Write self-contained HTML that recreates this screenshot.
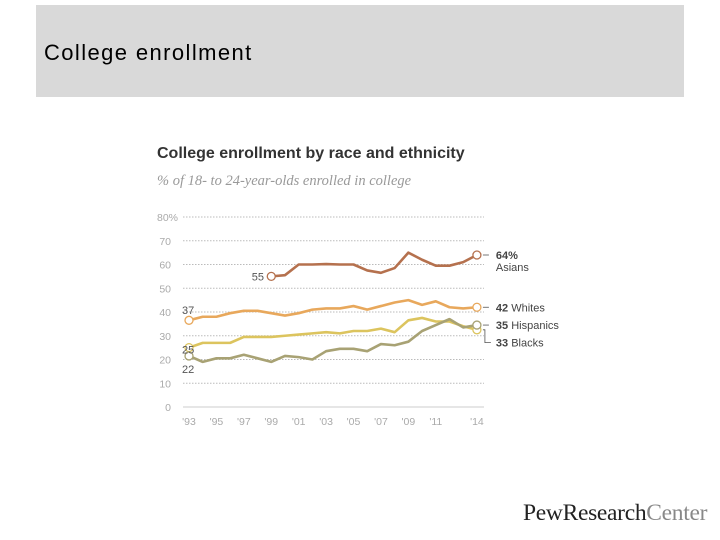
<!DOCTYPE html>
<html><head><meta charset="utf-8"><style>
body{margin:0;width:720px;height:540px;background:#fff;position:relative;overflow:hidden;font-family:"Liberation Sans",sans-serif}
#hdr{position:absolute;left:36px;top:5px;width:648px;height:92px;background:#d9d9d9}
#hdr span{position:absolute;left:8px;top:35px;font-size:22px;letter-spacing:1.4px;color:#000}
#logo{position:absolute;left:523px;top:500px;font-family:"Liberation Serif",serif;font-size:23.5px;letter-spacing:-0.3px;color:#222}
</style></head><body>
<div id="hdr"><span>College enrollment</span></div>
<svg id="chart" width="720" height="540" style="position:absolute;left:0;top:0"></svg>
<div id="logo">PewResearch<span style="color:#888">Center</span></div>
<script>
const years=[1993,1994,1995,1996,1997,1998,1999,2000,2001,2002,2003,2004,2005,2006,2007,2008,2009,2010,2011,2012,2013,2014];
const asians=[null,null,null,null,null,null,55,55.5,60,60,60.2,60,60,57.5,56.5,58.5,65,62,59.5,59.5,61,64];
const whites=[36.5,38,38,39.5,40.5,40.5,39.5,38.5,39.5,41,41.5,41.5,42.5,41,42.5,44,45,43,44.5,42,41.5,42];
const blacks=[25,27,27,27,29.5,29.5,29.5,30,30.5,31,31.5,31,32,32,33,31.5,36.5,37.5,36,36,34,32.5];
const hispanics=[21.5,19,20.5,20.5,22,20.5,19,21.5,21,20,23.5,24.5,24.5,23.5,26.5,26,27.5,32,34.5,37,33.5,34.5];
const yTicks=[0,10,20,30,40,50,60,70,80];
const xTickYears=[1993,1995,1997,1999,2001,2003,2005,2007,2009,2011,2014];
const xLabels=["'93","'95","'97","'99","'01","'03","'05","'07","'09","'11","'14"];
const X=y=>189+(y-1993)*13.71, Y=v=>407-v*2.375;
const svg=document.getElementById('chart'),NS='http://www.w3.org/2000/svg';
function mk(t,a,p){const e=document.createElementNS(NS,t);for(const k in a)e.setAttribute(k,a[k]);(p||svg).appendChild(e);return e;}
function tx(x,y,s,a){const e=mk('text',Object.assign({x:x,y:y,'font-family':'Liberation Sans, sans-serif'},a));e.textContent=s;return e;}
let t=tx(157,158,'College enrollment by race and ethnicity',{'font-size':16,'font-weight':'bold',fill:'#333'});

t=tx(157,185,'% of 18- to 24-year-olds enrolled in college',{'font-size':14.5,'font-style':'italic','font-family':'Liberation Serif, serif',fill:'#999'});

yTicks.forEach(v=>{
 if(v>0){const l=mk('line',{x1:183,x2:484,y1:Y(v),y2:Y(v),stroke:'#bbb','stroke-dasharray':'1.5,1.5'});
 }
 const e=tx(171,Y(v)+4,v===80?'80%':String(v),{'font-size':10.5,fill:'#aaa','text-anchor':v===80?'start':'end'});
 if(v===80)e.setAttribute('x',157);
 
});
let ax=mk('line',{x1:183,x2:484,y1:407,y2:407,stroke:'#ccc'});

xTickYears.forEach((yr,i)=>{
 const e=tx(X(yr),425,xLabels[i],{'font-size':10.5,fill:'#aaa','text-anchor':'middle'});
 
});
function series(vals,col,name){
 let d='';vals.forEach((v,i)=>{if(v==null)return;d+=(d?'L':'M')+X(years[i])+','+Y(v);});
 const p=mk('path',{d:d,fill:'none',stroke:col,'stroke-width':2.6,'stroke-linejoin':'round'});
 
 const fi=vals.findIndex(v=>v!=null),li=vals.length-1;
 [fi,li].forEach(i=>{const c=mk('circle',{cx:X(years[i]),cy:Y(vals[i]),r:4,fill:'#fff',stroke:col,'stroke-width':1.3});
 });
}
series(asians,'#b5714e','asians');
series(whites,'#e8a85c','whites');
series(blacks,'#dcc45e','blacks');
series(hispanics,'#a8a274','hispanics');
const lab=[[264,Y(55)+4,'55','end'],[182,Y(37)-5,'37','start'],[182,Y(25)+6,'25','start'],[182,Y(21.5)+17,'22','start']];
lab.forEach(a=>{const e=tx(a[0],a[1],a[2],{'font-size':11,fill:'#555','text-anchor':a[3]});
 });
const ex=X(2014);
function end(y1,y2,val,name,key){
 const l=mk('polyline',{points:(ex+6)+','+y1+' '+(ex+12)+','+y1,fill:'none',stroke:'#555','stroke-width':0.8});
 
 const e=tx(ex+19,y2,'',{'font-size':11,fill:'#444'});
 const b=mk('tspan',{'font-weight':'bold'},e);b.textContent=val;
 const n=mk('tspan',{},e);n.textContent=' '+name;
 
}
end(Y(64),Y(64)+4,'64%','','asians');
t=tx(ex+19,Y(64)+16,'Asians',{'font-size':11,fill:'#444'});
end(Y(42),Y(42)+4,'42','Whites','whites');
end(Y(34.5),Y(34.5)+4,'35','Hispanics','hispanics');
let bl=mk('polyline',{points:(ex+6)+','+Y(32.5)+' '+(ex+8)+','+Y(32.5)+' '+(ex+8)+','+(Y(33)+14)+' '+(ex+14)+','+(Y(33)+14),fill:'none',stroke:'#555','stroke-width':0.8});

t=tx(ex+19,Y(33)+18,'',{'font-size':11,fill:'#444'});
let b1=mk('tspan',{'font-weight':'bold'},t);b1.textContent='33';let b2=mk('tspan',{},t);b2.textContent=' Blacks';

</script>
</body></html>
